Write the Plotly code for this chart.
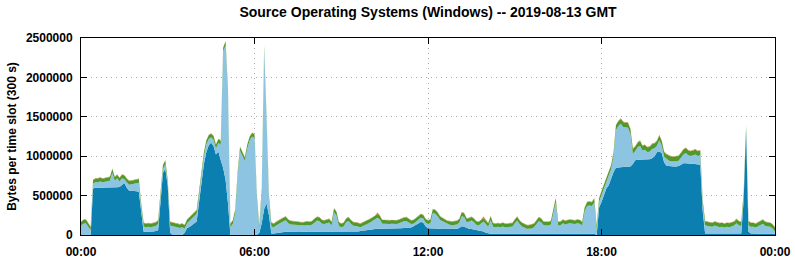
import plotly.graph_objects as go

# time slots: 5-minute slots over the day (minutes since 00:00)
slot_minutes = [i * 5 for i in range(289)]

# values in thousands of bytes per slot, one row per hour (12 slots)
dark_k = [
    0, 0, 0, 0, 0, 590, 600, 600, 600, 600, 600, 605,
    605, 605, 605, 605, 610, 630, 660, 600, 560, 560, 560, 555,
    550, 250, 40, 40, 40, 40, 45, 50, 60, 420, 790, 840,
    620, 30, 0, 0, 0, 0, 0, 30, 90, 100, 120, 150,
    170, 420, 650, 900, 1050, 1140, 1170, 1130, 1020, 1060, 950, 850,
    700, 400, 0, 0, 0, 0, 0, 0, 0, 0, 0, 0,
    0, 0, 30, 150, 330, 400, 250, 20, 20, 25, 30, 35,
    40, 42, 40, 38, 40, 42, 40, 38, 40, 40, 42, 40,
    40, 38, 40, 42, 40, 40, 38, 40, 42, 40, 40, 38,
    40, 40, 42, 40, 40, 38, 40, 45, 50, 55, 60, 65,
    70, 75, 80, 80, 80, 80, 85, 85, 85, 85, 85, 85,
    85, 85, 90, 90, 90, 95, 110, 130, 150, 165, 160, 110,
    85, 85, 85, 85, 85, 80, 75, 75, 75, 75, 75, 75,
    80, 90, 110, 105, 90, 80, 75, 70, 65, 60, 55, 45,
    30, 20, 15, 15, 15, 15, 15, 15, 15, 15, 15, 15,
    15, 15, 15, 15, 15, 15, 15, 15, 15, 15, 15, 15,
    15, 15, 15, 15, 15, 15, 15, 15, 15, 15, 15, 15,
    15, 15, 15, 15, 15, 15, 15, 15, 15, 15, 0, 350,
    420, 520, 590, 630, 720, 800, 855, 860, 860, 862, 865, 868,
    870, 900, 950, 955, 955, 955, 955, 955, 960, 975, 1000, 1050,
    1060, 1040, 920, 880, 875, 870, 870, 870, 875, 890, 910, 910,
    905, 905, 905, 900, 900, 890, 300, 20, 20, 20, 20, 20,
    20, 20, 20, 20, 20, 20, 20, 20, 20, 20, 20, 450,
    1330, 40, 20, 20, 15, 15, 15, 15, 15, 15, 15, 15,
    15,
]

light_k = [
    119, 144, 149, 109, 59, 59, 69, 69, 79, 69, 74, 74,
    84, 184, 84, 114, 69, 89, 49, 69, 79, 84, 89, 99,
    114, 99, 69, 59, 64, 59, 64, 64, 79, 49, 49, 59,
    29, 89, 109, 104, 99, 89, 99, 49, 59, 79, 79, 79,
    99, 89, 99, 99, 99, 79, 69, 79, 79, 109, 199, 1479,
    1709, 1399, 99, 139, 279, 749, 1069, 1009, 939, 1099, 1199, 1249,
    1229, 449, 39, 399, 2019, 1049, 199, 89, 79, 94, 109, 124,
    134, 144, 109, 94, 89, 84, 89, 79, 74, 79, 84, 79,
    94, 124, 144, 134, 104, 99, 109, 119, 79, 249, 209, 79,
    59, 69, 119, 139, 104, 79, 74, 59, 49, 59, 74, 79,
    89, 104, 109, 140, 119, 64, 59, 54, 54, 59, 54, 54,
    64, 79, 84, 89, 64, 44, 34, 34, 44, 54, 49, 49,
    54, 64, 194, 184, 154, 109, 99, 74, 59, 54, 49, 54,
    54, 69, 129, 124, 74, 89, 109, 94, 64, 59, 84, 125,
    109, 84, 174, 89, 84, 89, 84, 94, 84, 79, 89, 89,
    134, 169, 124, 94, 79, 64, 64, 69, 84, 124, 164, 144,
    109, 104, 104, 119, 264, 404, 104, 109, 134, 119, 129, 134,
    129, 124, 134, 129, 104, 284, 354, 359, 354, 399, 69, 69,
    89, 69, 79, 109, 119, 199, 477, 522, 552, 510, 497, 494,
    412, 132, 112, 157, 177, 117, 127, 97, 97, 117, 102, 82,
    142, 92, 72, 82, 67, 62, 62, 67, 67, 92, 112, 132,
    107, 97, 107, 122, 102, 122, 82, 104, 94, 89, 84, 99,
    84, 79, 84, 74, 84, 79, 89, 99, 129, 104, 94, 44,
    4, 84, 84, 84, 79, 94, 119, 129, 99, 94, 89, 69,
    29,
]

green_k = [
    45, 46, 47, 45, 42, 45, 48, 48, 47, 46, 47, 46,
    46, 48, 46, 47, 45, 46, 45, 45, 46, 46, 47, 46,
    46, 45, 44, 44, 45, 44, 45, 45, 46, 45, 46, 46,
    44, 45, 45, 44, 45, 44, 45, 44, 45, 46, 46, 46,
    46, 46, 46, 47, 47, 47, 47, 46, 46, 47, 47, 48,
    48, 47, 45, 45, 46, 46, 47, 46, 46, 47, 47, 47,
    47, 46, 44, 45, 48, 47, 45, 45, 45, 45, 46, 46,
    46, 46, 45, 45, 45, 45, 45, 45, 44, 45, 45, 45,
    45, 46, 46, 46, 45, 45, 45, 45, 45, 47, 46, 45,
    44, 45, 46, 46, 45, 45, 45, 44, 44, 45, 45, 45,
    45, 46, 46, 45, 46, 45, 45, 45, 45, 45, 45, 45,
    45, 46, 46, 46, 45, 45, 45, 45, 45, 46, 46, 45,
    45, 45, 47, 47, 46, 46, 45, 45, 45, 45, 44, 45,
    45, 45, 46, 46, 45, 45, 46, 45, 45, 45, 45, 45,
    45, 45, 46, 45, 45, 45, 45, 45, 45, 45, 45, 45,
    46, 46, 46, 45, 45, 44, 44, 45, 45, 46, 46, 46,
    45, 45, 45, 45, 47, 47, 45, 45, 46, 45, 45, 45,
    45, 45, 45, 45, 45, 47, 47, 47, 47, 48, 44, 45,
    46, 46, 47, 47, 48, 48, 60, 61, 61, 61, 60, 60,
    60, 60, 60, 60, 61, 60, 60, 60, 60, 60, 60, 60,
    61, 60, 60, 60, 60, 60, 60, 60, 60, 60, 61, 61,
    60, 60, 60, 60, 60, 60, 55, 50, 50, 50, 50, 50,
    50, 50, 50, 50, 50, 50, 50, 50, 51, 50, 50, 50,
    52, 50, 50, 50, 50, 50, 50, 50, 50, 50, 50, 50,
    50,
]

orange_k = [
    6, 6, 6, 6, 6, 6, 6, 6, 6, 6, 6, 6,
    6, 6, 6, 6, 6, 6, 6, 6, 6, 6, 6, 6,
    6, 6, 6, 6, 6, 6, 6, 6, 6, 6, 6, 6,
    6, 6, 6, 6, 6, 6, 6, 6, 6, 6, 6, 6,
    6, 6, 6, 6, 6, 6, 6, 6, 6, 6, 6, 6,
    6, 6, 6, 6, 6, 6, 6, 6, 6, 6, 6, 6,
    6, 6, 6, 6, 6, 6, 6, 6, 6, 6, 6, 6,
    6, 6, 6, 6, 6, 6, 6, 6, 6, 6, 6, 6,
    6, 6, 6, 6, 6, 6, 6, 6, 6, 8, 7, 6,
    6, 6, 6, 6, 6, 6, 6, 6, 6, 6, 6, 6,
    6, 6, 10, 20, 10, 6, 6, 6, 6, 6, 6, 6,
    6, 6, 6, 6, 6, 6, 6, 6, 6, 6, 6, 6,
    6, 6, 8, 8, 6, 6, 6, 6, 6, 6, 6, 6,
    6, 6, 8, 8, 6, 6, 6, 6, 6, 6, 10, 20,
    8, 6, 10, 6, 6, 6, 6, 6, 6, 6, 6, 6,
    6, 8, 6, 6, 6, 6, 6, 6, 6, 6, 8, 6,
    6, 6, 6, 6, 8, 8, 6, 6, 6, 6, 6, 6,
    6, 6, 6, 6, 6, 6, 6, 6, 6, 6, 6, 6,
    6, 6, 6, 6, 6, 6, 8, 8, 8, 8, 8, 8,
    8, 8, 8, 8, 8, 8, 8, 8, 8, 8, 8, 8,
    8, 8, 8, 8, 8, 8, 8, 8, 8, 8, 8, 8,
    8, 8, 8, 8, 8, 8, 8, 6, 6, 6, 6, 6,
    6, 6, 6, 6, 6, 6, 6, 6, 8, 6, 6, 6,
    6, 6, 6, 6, 6, 6, 6, 6, 6, 6, 6, 6,
    6,
]

series = [
    ("dark", dark_k, "#0a7fb0"),
    ("light", light_k, "#8cc4e2"),
    ("green", green_k, "#4e9a2c"),
    ("orange", orange_k, "#c08a3a"),
]

x_tick_vals = [0, 360, 720, 1080, 1440]
x_tick_text = ["00:00", "06:00", "12:00", "18:00", "00:00"]
y_tick_vals = [0, 500000, 1000000, 1500000, 2000000, 2500000]
y_tick_text = ["0", "500000", "1000000", "1500000", "2000000", "2500000"]

fig = go.Figure()
for name, vals, col in series:
    fig.add_trace(go.Scatter(
        x=slot_minutes,
        y=[v * 1000 for v in vals],
        name=name,
        mode="lines",
        stackgroup="one",
        line=dict(width=0, color=col),
        fillcolor=col,
        hoverinfo="skip",
    ))

FONT = "Liberation Sans, Arial, Helvetica, sans-serif"
fig.update_layout(
    width=795,
    height=260,
    margin=dict(l=81, r=20, t=38, b=25, autoexpand=False),
    paper_bgcolor="white",
    plot_bgcolor="white",
    showlegend=False,
    font=dict(family=FONT, size=12, color="black", weight="bold"),
    title=dict(
        text="Source Operating Systems (Windows) -- 2019-08-13 GMT",
        x=(81 + 775) / 2 / 795,
        xanchor="center",
        y=1 - 12 / 260,
        yanchor="middle",
        font=dict(family=FONT, size=14, color="black", weight="bold"),
    ),
)
fig.update_xaxes(
    range=[0, 1440],
    automargin=False,
    tickmode="array",
    tickvals=x_tick_vals,
    ticktext=x_tick_text,
    ticks="inside",
    ticklen=6,
    tickcolor="black",
    showline=True,
    linecolor="black",
    linewidth=1,
    mirror="ticks",
    showgrid=True,
    gridcolor="#a8a8a8",
    griddash="1px,4px",
    gridwidth=1,
    zeroline=False,
    ticklabelstandoff=6,
    tickfont=dict(family=FONT, size=12, color="black", weight="bold"),
)
fig.update_yaxes(
    range=[0, 2500000],
    automargin=False,
    tickmode="array",
    tickvals=y_tick_vals,
    ticktext=y_tick_text,
    ticks="inside",
    ticklen=6,
    tickcolor="black",
    showline=True,
    linecolor="black",
    linewidth=1,
    mirror="ticks",
    showgrid=True,
    gridcolor="#a8a8a8",
    griddash="1px,4px",
    gridwidth=1,
    zeroline=False,
    ticklabelstandoff=5,
    tickfont=dict(family=FONT, size=12, color="black", weight="bold"),
    title=dict(text="Bytes per time slot (300 s)", standoff=6,
               font=dict(family=FONT, size=12, color="black", weight="bold")),
)

fig.write_html("out.html")
